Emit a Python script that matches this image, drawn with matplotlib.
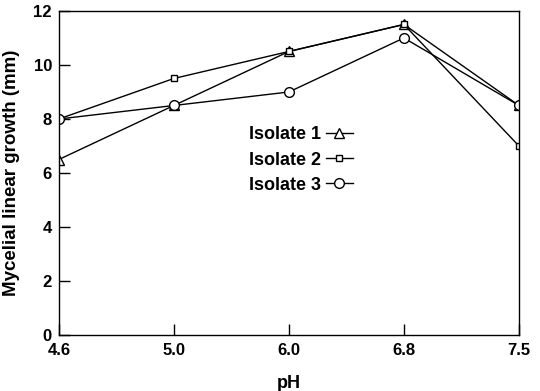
import numpy as np
import matplotlib
matplotlib.use('Agg')
import matplotlib.pyplot as plt

plt.rcParams['font.family'] = ['Liberation Sans', 'DejaVu Sans']
plt.rcParams['font.weight'] = 'bold'

# pH levels (equally spaced categories)
ph_labels = ['4.6', '5.0', '6.0', '6.8', '7.5']
isolate1 = [6.5, 8.5, 10.5, 11.5, 8.5]
isolate2 = [8.0, 9.5, 10.5, 11.5, 7.0]
isolate3 = [8.0, 8.5, 9.0, 11.0, 8.5]

x = np.arange(len(ph_labels))

fig = plt.figure(figsize=(5.4, 3.91), dpi=100)
ax = fig.add_axes([0.109, 0.143, 0.852, 0.829])

ax.plot(x, isolate1, color='black', lw=1, marker='^', ms=7, mfc='white', mec='black', mew=1, label='Isolate 1')
ax.plot(x, isolate2, color='black', lw=1, marker='s', ms=5, mfc='white', mec='black', mew=1, label='Isolate 2')
ax.plot(x, isolate3, color='black', lw=1, marker='o', ms=7, mfc='white', mec='black', mew=1, label='Isolate 3')

ax.set_xlim(0, len(ph_labels) - 1)
ax.set_ylim(0, 12)
ax.set_xticks(x)
ax.set_xticklabels(ph_labels)
ax.set_yticks([0, 2, 4, 6, 8, 10, 12])
ax.tick_params(direction='in', length=8, width=1, labelsize=12)
ax.tick_params(axis='x', pad=6)
ax.tick_params(axis='y', pad=5)
for lab in ax.get_xticklabels() + ax.get_yticklabels():
    lab.set_fontweight('bold')
for s in ax.spines.values():
    s.set_linewidth(1)

ax.set_xlabel('pH', fontsize=13, fontweight='bold', labelpad=12)
ax.set_ylabel('Mycelial linear growth (mm)', fontsize=13.5, fontweight='bold', labelpad=10)

leg = ax.legend(loc='center left', bbox_to_anchor=(0.378, 0.54), frameon=False,
                markerfirst=False, handlelength=1.5, handletextpad=0.25,
                labelspacing=0.45, prop={'size': 13, 'weight': 'bold'})

fig.savefig('out.png', dpi=100)
